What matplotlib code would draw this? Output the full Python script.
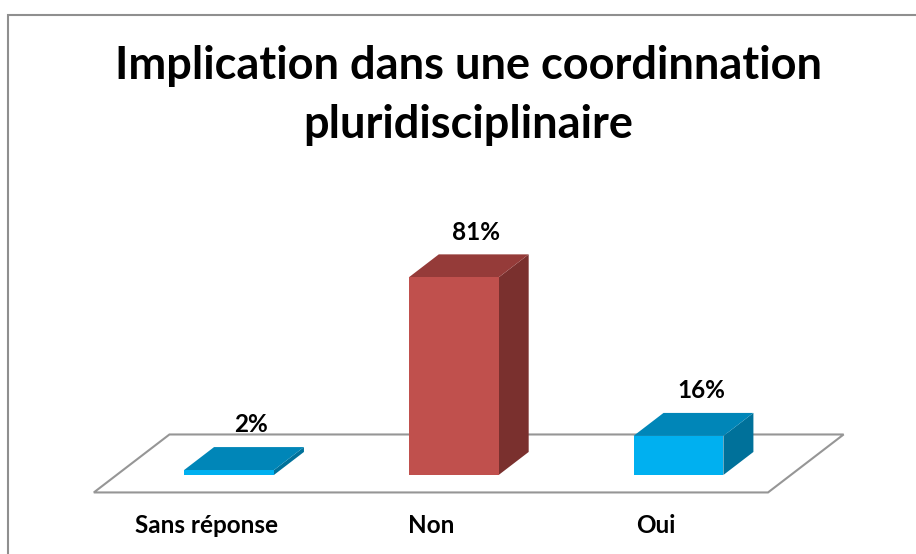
import matplotlib
matplotlib.use("Agg")
import matplotlib.pyplot as plt
from matplotlib.patches import Polygon, Rectangle

categories = ["Sans réponse", "Non", "Oui"]
values = [2, 81, 16]
value_labels = ["2%", "81%", "16%"]
front_colors = ["#00B0F0", "#C0504D", "#00B0F0"]
top_colors = ["#0086B8", "#953B39", "#0086B8"]
side_colors = ["#00719A", "#7A302E", "#00719A"]

plt.rcParams['font.family'] = ['Lato', 'DejaVu Sans']

fig = plt.figure(figsize=(9.16, 5.54), dpi=100)
ax = fig.add_axes([0, 0, 1, 1])
ax.set_xlim(-1.019, 3.057)
ax.set_ylim(-32.4, 194.7)
ax.axis('off')

bar_w = 0.40
# oblique depth of one bar, in data units
ddx, ddy = 0.1335, 9.43
f0, f1 = -0.76, 1.76  # floor front/back depth (in bar depths)

# floor
n = len(categories)
floor = [(-0.5 + f0 * ddx, f0 * ddy), (n - 0.5 + f0 * ddx, f0 * ddy),
         (n - 0.5 + f1 * ddx, f1 * ddy), (-0.5 + f1 * ddx, f1 * ddy)]
ax.add_patch(Polygon(floor, closed=True, facecolor='white', edgecolor='#969696',
                     lw=1.5, zorder=1))

for i, v in enumerate(values):
    x0, x1 = i - bar_w / 2, i + bar_w / 2
    side = [(x1, 0), (x1 + ddx, ddy), (x1 + ddx, v + ddy), (x1, v)]
    top = [(x0, v), (x1, v), (x1 + ddx, v + ddy), (x0 + ddx, v + ddy)]
    ax.add_patch(Polygon(side, closed=True, facecolor=side_colors[i], lw=0, zorder=2))
    ax.add_patch(Polygon(top, closed=True, facecolor=top_colors[i], lw=0, zorder=2))
    ax.add_patch(Rectangle((x0, 0), bar_w, v, facecolor=front_colors[i], lw=0, zorder=3))
    ax.text(i + 0.1, v + ddy + 6, value_labels[i], ha='center', va='baseline',
            fontsize=17.5, fontweight='bold', color='black')
    ax.text(i + f0 * ddx, -23.8, categories[i], ha='center', va='baseline',
            fontsize=17.5, fontweight='bold', color='black')

fig.text(0.511, 1 - 79 / 554, "Implication dans une coordinnation", ha='center',
         va='baseline', fontsize=32.5, fontweight='bold')
fig.text(0.511, 1 - 138 / 554, "pluridisciplinaire", ha='center',
         va='baseline', fontsize=32.5, fontweight='bold')

# chart frame (only top and left edges are visible in the crop)
fig.patches.append(Rectangle((8 / 916, -0.1), 1.2, 1 - 14.5 / 554 + 0.1, fill=False,
                             edgecolor='#8F8F8F', lw=1.5, transform=fig.transFigure,
                             figure=fig))

fig.savefig("out.png", dpi=100)
